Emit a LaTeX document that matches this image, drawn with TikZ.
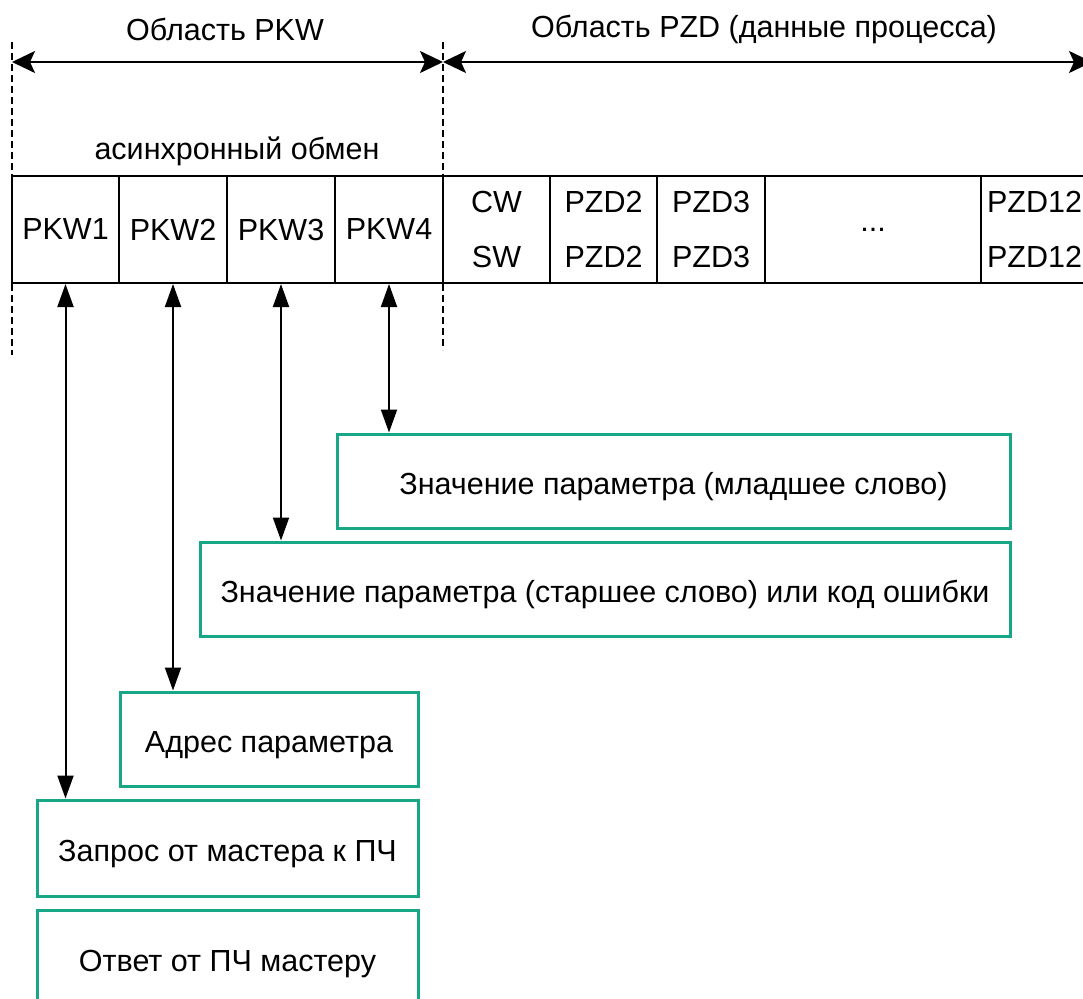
\documentclass[tikz,border=0pt]{standalone}
\usepackage{fontspec}
\setmainfont{Liberation Sans}
\usetikzlibrary{arrows.meta}
\definecolor{boxgreen}{RGB}{23,166,134}
\tikzset{
    cell/.style={draw, line width=2pt, minimum height=107pt, inner sep=0pt, align=center},
    infobox/.style={draw=boxgreen, line width=3pt, minimum height=94pt, inner sep=0pt, text height=26pt, text depth=0pt},
    areaarrow/.style={line width=2pt, {Stealth[length=23pt,width=22pt,inset=5pt]}-{Stealth[length=23pt,width=22pt,inset=5pt]}},
    linkarrow/.style={line width=2pt, {Triangle[length=23pt,width=16pt]}-{Triangle[length=23pt,width=16pt]}},
    border/.style={line width=1.5pt, dash pattern=on 7pt off 4pt}
}
\begin{document}
\begin{tikzpicture}[x=1pt, y=-1pt, font=\fontsize{30.5}{55}\selectfont]
        \path[use as bounding box, clip] (0,0) rectangle (1083,998);
        % telegram words
        \node[cell, minimum width=107pt] (pkw1) at (65.5,229.5) {PKW1};
        \node[cell, minimum width=108pt] (pkw2) at (173,229.5) {PKW2};
        \node[cell, minimum width=108pt] (pkw3) at (281,229.5) {PKW3};
        \node[cell, minimum width=108pt] (pkw4) at (389,229.5) {PKW4};
        \node[cell, minimum width=107pt] (cw) at (496.5,229.5) {CW\\SW};
        \node[cell, minimum width=107pt] (pzd2) at (603.5,229.5) {PZD2\\PZD2};
        \node[cell, minimum width=108pt] (pzd3) at (711,229.5) {PZD3\\PZD3};
        \node[cell, minimum width=216pt] (dots) at (873,229.5) {...};
        \node[cell, minimum width=107pt] (pzd12) at (1034.5,229.5) {PZD12\\PZD12};
        % area borders
        \coordinate (lefttop) at (12,42);
        \coordinate (leftbot) at (12,355);
        \coordinate (midtop) at (443,42);
        \coordinate (midbot) at (443,350);
        \coordinate (rightend) at (1092,62);
        \draw[border] (lefttop) -- (leftbot);
        \draw[border] (midtop) -- (midbot);
        \draw[areaarrow] (12,62) -- (443,62);
        \draw[areaarrow] (443,62) -- (rightend);
        \node (pkwarea) at (225,29) {Область PKW};
        \node (pzdarea) at (764,29) {Область PZD (данные процесса)};
        \node (async) at (237,151) {асинхронный обмен};
        % meaning of PKW words
        \node[infobox, minimum width=673pt] (low) at (673.5,481) {Значение параметра (младшее слово)};
        \node[infobox, minimum width=810pt] (high) at (605,589) {Значение параметра (старшее слово) или код ошибки};
        \node[infobox, minimum width=298pt] (addr) at (269,739) {Адрес параметра};
        \node[infobox, minimum width=381pt, minimum height=96pt] (req) at (227.5,848) {Запрос от мастера к ПЧ};
        \node[infobox, minimum width=381pt, minimum height=96pt] (resp) at (227.5,958) {Ответ от ПЧ мастеру};
        \draw[linkarrow] (pkw4.south) -- (pkw4.south |- low.north);
        \draw[linkarrow] (pkw3.south) -- (pkw3.south |- high.north);
        \draw[linkarrow] (pkw2.south) -- (pkw2.south |- addr.north);
        \draw[linkarrow] (pkw1.south) -- (pkw1.south |- req.north);
    \end{tikzpicture}
\end{document}
